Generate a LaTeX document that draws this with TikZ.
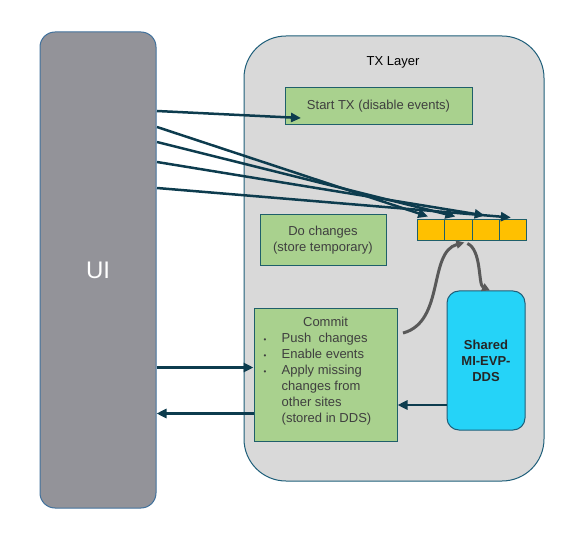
\documentclass[tikz,border=0pt]{standalone}
\usepackage{fontspec}
\setmainfont{Liberation Sans}
\usetikzlibrary{arrows.meta,positioning}
\definecolor{uigray}{HTML}{939399}
\definecolor{uiedge}{HTML}{41719C}
\definecolor{txfill}{HTML}{D9D9D9}
\definecolor{txedge}{HTML}{1F5F7A}
\definecolor{boxgreen}{HTML}{A9D18E}
\definecolor{boxedge}{HTML}{1F5F6A}
\definecolor{cellyellow}{HTML}{FFC000}
\definecolor{ddscyan}{HTML}{25D3F8}
\definecolor{flowcol}{HTML}{0D3C4E}
\definecolor{loopgray}{HTML}{595959}
\definecolor{textgray}{HTML}{3F3F3F}
\begin{document}
\begin{tikzpicture}[x=1pt,y=-1pt,
	greenbox/.style={draw=boxedge, fill=boxgreen, line width=1pt, inner sep=0pt, text=textgray, font=\fontsize{13}{16}\selectfont, align=center},
	cellbox/.style={draw=boxedge, fill=cellyellow, line width=1pt, minimum width=27.25pt, minimum height=21pt, inner sep=0pt},
	flow/.style={draw=flowcol, line width=2.5pt, -{Triangle[length=10pt,width=9pt]}},
	loop/.style={draw=loopgray, line width=3pt, -{Triangle[length=8pt,width=8pt]}}]
	\useasboundingbox (0,0) rectangle (565,545);
	% Layers
	\node [draw=txedge, fill=txfill, line width=1pt, rounded corners=42pt, minimum width=300pt, minimum height=445pt] (tx) at (394,258.5) {};
	\node [font=\fontsize{13}{16}\selectfont] (txlabel) at (393,62) {TX Layer};
	\node [draw=uiedge, fill=uigray, line width=1pt, rounded corners=15pt, minimum width=116pt, minimum height=476pt, text=white, font=\fontsize{24}{28}\selectfont] (ui) at (98,270) {UI};
	% Steps
	\node [greenbox, minimum width=187pt, minimum height=37pt] (start) at (378.5,106.5) {Start TX (disable events)};
	\node [greenbox, minimum width=126pt, minimum height=51pt] (dochg) at (323,240.5) {Do changes\\(store temporary)};
	\node [greenbox, minimum width=143pt, minimum height=132pt] (commit) at (325.5,375) {};
	\node [text=textgray, font=\fontsize{13}{16}\selectfont, inner sep=0pt, anchor=north] (committitle) at ([yshift=-8pt]commit.north) {Commit};
	\node [text=textgray, font=\fontsize{13}{16}\selectfont, inner sep=0pt, anchor=north west, align=left] (commitlist) at ([xshift=10pt,yshift=-24pt]commit.north west)
		{\makebox[18pt][l]{\footnotesize\textbullet}Push\ \ changes\\
		\makebox[18pt][l]{\footnotesize\textbullet}Enable events\\
		\makebox[18pt][l]{\footnotesize\textbullet}Apply missing\\
		\hspace*{18pt}changes from\\
		\hspace*{18pt}other sites\\
		\hspace*{18pt}(stored in DDS)};
	% Temporary store
	\foreach \i in {1,...,4}
		\node [cellbox, anchor=west] (cell\i) at (417+27.25*\i-27.25,230.5) {};
	\node [draw=txedge, fill=ddscyan, line width=1pt, rounded corners=12pt, minimum width=78pt, minimum height=139pt, align=center, font=\bfseries\fontsize{13}{16}\selectfont, text=black!85] (dds) at (486,360.5) {Shared\\MI-EVP-\\DDS};
	% UI calls
	\coordinate (s0) at (157,111);
	\coordinate (s1) at (157,127);
	\coordinate (s2) at (157,142);
	\coordinate (s3) at (157,162);
	\coordinate (s4) at (157,188);
	\coordinate (starttip) at (301,118);
	\draw [flow] (s0) -- (starttip);
	\draw [flow] (s1) -- ([xshift=-3pt,yshift=3pt]cell1.north);
	\draw [flow] (s2) -- ([xshift=-3pt,yshift=3pt]cell2.north);
	\draw [flow] (s3) -- ([xshift=-1pt,yshift=4pt]cell3.north);
	\draw [flow] (s4) -- ([xshift=-2pt,yshift=2pt]cell4.north);
	\draw [flow] ([yshift=7.5pt]commit.west -| ui.east) -- ([yshift=7.5pt]commit.west);
	\draw [flow] ([yshift=-38.5pt]commit.west) -- ([yshift=-38.5pt]commit.west -| ui.east);
	\draw [flow] ([yshift=-44.5pt]dds.west) -- ([yshift=-44.5pt]dds.west -| commit.east);
	% Loop through the store
	\coordinate (loopstart) at (403,333);
	\draw [loop] (loopstart) .. controls (445,322) and (428,252) .. ([xshift=6pt,yshift=-1pt]cell2.south);
	\draw [loop] ([xshift=9pt,yshift=-2pt]cell2.south) .. controls (482,250) and (478,285) .. ([xshift=4pt]dds.north);
\end{tikzpicture}
\end{document}
